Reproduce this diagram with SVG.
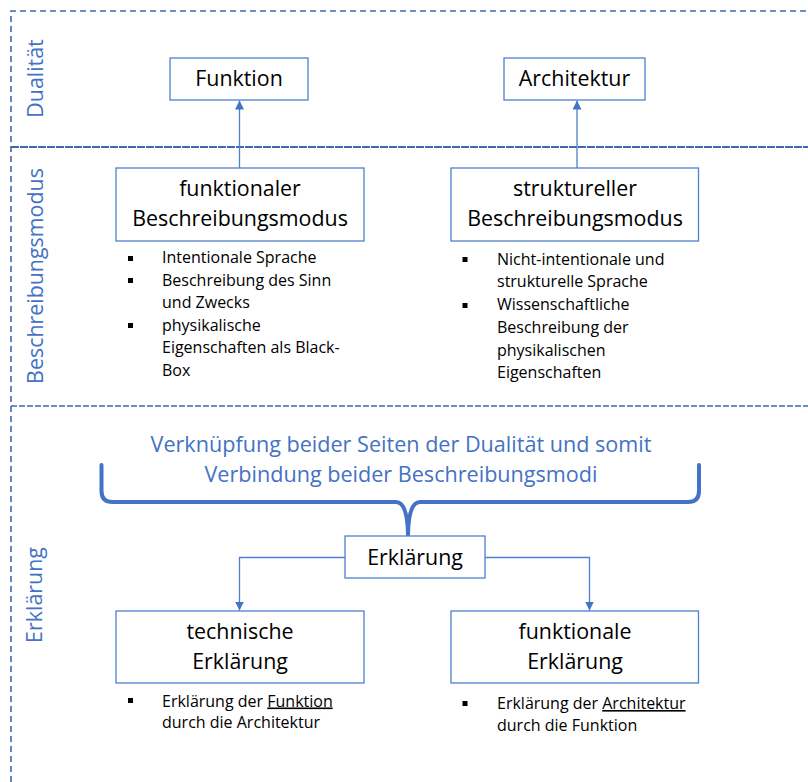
<svg xmlns="http://www.w3.org/2000/svg" width="808" height="782" viewBox="0 0 808 782">
  <defs>
    <style>
      .frame { fill: none; stroke: #4068AD; stroke-width: 1.6; stroke-dasharray: 6 4; }
      .sep1 { fill: none; stroke: #4068AD; stroke-width: 2; stroke-dasharray: 8 1; }
      .sep2 { fill: none; stroke: #4068AD; stroke-width: 1.6; stroke-dasharray: 6 2; }
      .box { fill: #FFFFFF; stroke: #4E7FD2; stroke-width: 1.3; }
      .title { font-family: "Open Sans", "Noto Sans", sans-serif; font-size: 21.4px; fill: #000000; text-anchor: middle; }
      .lane { font-family: "Open Sans", "Noto Sans", sans-serif; font-size: 21.4px; fill: #4472C4; text-anchor: middle; }
      .note { font-family: "Open Sans", "Noto Sans", sans-serif; font-size: 16px; fill: #000000; }
      .blue { font-family: "Open Sans", "Noto Sans", sans-serif; font-size: 21.6px; fill: #4472C4; text-anchor: middle; }
      .bullet { fill: #000000; }
      .conn { fill: none; stroke: #4E7FD2; stroke-width: 1.3; }
      .brace { fill: none; stroke: #4472C4; stroke-width: 4; stroke-linecap: round; stroke-linejoin: round; }
    </style>
    <marker id="arrow" viewBox="0 0 10 10" refX="10" refY="5" markerWidth="9" markerHeight="9" markerUnits="userSpaceOnUse" orient="auto">
      <path d="M0,0 L10,5 L0,10 Z" fill="#4472C4"/>
    </marker>
  </defs>

  <!-- frame and lane separators -->
  <g id="frame">
    <path class="frame" d="M11,782 L11,11 L808,11"/>
    <line class="sep1" x1="11" y1="147" x2="808" y2="147"/>
    <line class="sep2" x1="11" y1="406" x2="808" y2="406"/>
  </g>

  <!-- lane labels -->
  <g id="lane-labels">
    <text class="lane" transform="translate(43,78.5) rotate(-90)">Dualität</text>
    <text class="lane" transform="translate(43,276) rotate(-90)">Beschreibungsmodus</text>
    <text class="lane" transform="translate(42,595) rotate(-90)">Erklärung</text>
  </g>

  <!-- connectors -->
  <g id="connectors">
    <line class="conn" x1="239.5" y1="168" x2="239.5" y2="100.5" marker-end="url(#arrow)"/>
    <line class="conn" x1="577" y1="168" x2="577" y2="100.5" marker-end="url(#arrow)"/>
    <path class="conn" d="M345,557.5 L239.5,557.5 L239.5,610.5" marker-end="url(#arrow)"/>
    <path class="conn" d="M485,557.5 L589.5,557.5 L589.5,610.5" marker-end="url(#arrow)"/>
    <path class="brace" d="M101.5,465 L101.5,491 Q101.5,502 112.5,502 L396,502 Q407.5,502 408,535 Q408.5,502 420,502 L688,502 Q699,502 699,491 L699,465"/>
  </g>

  <g id="node-funktion">
    <rect class="box" x="170" y="58" width="138" height="42"/>
    <text class="title" x="239" y="86">Funktion</text>
  </g>

  <g id="node-architektur">
    <rect class="box" x="504" y="58" width="141" height="42"/>
    <text class="title" x="574.5" y="86">Architektur</text>
  </g>

  <g id="node-funktionaler-modus">
    <rect class="box" x="116" y="168" width="248" height="73"/>
    <text class="title" x="240" y="196">funktionaler</text>
    <text class="title" x="240" y="226">Beschreibungsmodus</text>
  </g>

  <g id="node-struktureller-modus">
    <rect class="box" x="451" y="168" width="247.5" height="73"/>
    <text class="title" x="575" y="196">struktureller</text>
    <text class="title" x="575" y="226">Beschreibungsmodus</text>
  </g>

  <g id="notes-funktional">
    <rect class="bullet" x="128" y="256" width="5" height="5"/>
    <rect class="bullet" x="128" y="278" width="5" height="5"/>
    <rect class="bullet" x="128" y="323" width="5" height="5"/>
    <text class="note" x="162" y="263">Intentionale Sprache</text>
    <text class="note" x="162" y="285.5">Beschreibung des Sinn</text>
    <text class="note" x="162" y="308">und Zwecks</text>
    <text class="note" x="162" y="330.5">physikalische</text>
    <text class="note" x="162" y="353">Eigenschaften als Black-</text>
    <text class="note" x="162" y="375.5">Box</text>
  </g>

  <g id="notes-strukturell">
    <rect class="bullet" x="462.5" y="257" width="5" height="5"/>
    <rect class="bullet" x="462.5" y="303" width="5" height="5"/>
    <text class="note" x="497" y="264.5">Nicht-intentionale und</text>
    <text class="note" x="497" y="287">strukturelle Sprache</text>
    <text class="note" x="497" y="310">Wissenschaftliche</text>
    <text class="note" x="497" y="333">Beschreibung der</text>
    <text class="note" x="497" y="355.5">physikalischen</text>
    <text class="note" x="497" y="378">Eigenschaften</text>
  </g>

  <g id="brace-label">
    <text class="blue" x="401" y="452">Verknüpfung beider Seiten der Dualität und somit</text>
    <text class="blue" x="401" y="482">Verbindung beider Beschreibungsmodi</text>
  </g>

  <g id="node-erklaerung">
    <rect class="box" x="345" y="536" width="140" height="42"/>
    <text class="title" x="415" y="565">Erklärung</text>
  </g>

  <g id="node-technische">
    <rect class="box" x="116" y="611" width="248" height="72"/>
    <text class="title" x="240" y="639">technische</text>
    <text class="title" x="240" y="669">Erklärung</text>
  </g>

  <g id="node-funktionale">
    <rect class="box" x="451" y="611" width="247.5" height="72"/>
    <text class="title" x="575" y="639">funktionale</text>
    <text class="title" x="575" y="669">Erklärung</text>
  </g>

  <g id="notes-erklaerung">
    <rect class="bullet" x="128" y="698" width="5" height="5"/>
    <text class="note" x="162" y="706.5">Erklärung der <tspan text-decoration="underline">Funktion</tspan></text>
    <text class="note" x="162" y="728">durch die Architektur</text>
    <rect class="bullet" x="462.5" y="701" width="5" height="5"/>
    <text class="note" x="497" y="709">Erklärung der <tspan text-decoration="underline">Architektur</tspan></text>
    <text class="note" x="497" y="731">durch die Funktion</text>
  </g>
</svg>
